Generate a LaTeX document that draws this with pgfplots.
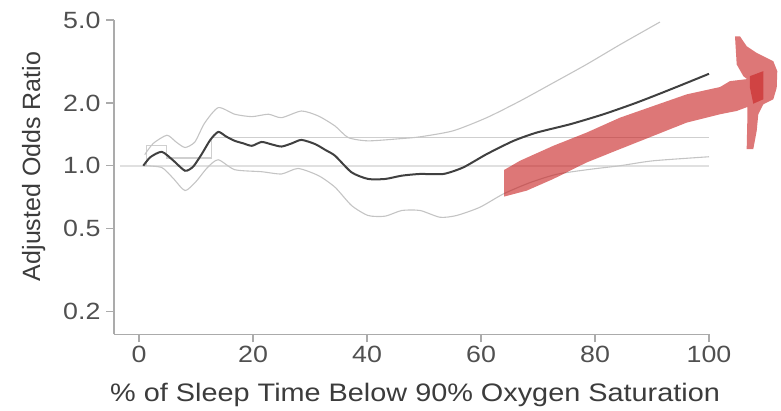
\documentclass[border=0pt]{standalone}
\usepackage{pgfplots}
\pgfplotsset{compat=1.18}
\usepackage{fontspec}
\setmainfont{Liberation Sans}[FakeStretch=1.14]
\newfontfamily\ylabfont{Liberation Sans}

\definecolor{axisgray}{HTML}{ABABAB}
\definecolor{tickgray}{HTML}{505050}
\definecolor{labgray}{HTML}{3C3C3C}
\definecolor{cigray}{HTML}{C4C4C4}
\definecolor{refgray}{HTML}{E0E0E0}
\definecolor{stepgray}{HTML}{CFCFCF}
\definecolor{estgray}{HTML}{404040}
\definecolor{arrowred}{RGB}{200,35,35}

\begin{document}
\begin{tikzpicture}
\begin{axis}[
    scale only axis,
    width=595pt, height=314.3pt,
    ymode=log,
    xmin=-4.39, xmax=100,
    ymin=0.1554, ymax=5.0,
    axis lines*=left, % L-shaped frame
    axis line style={axisgray, line width=1.3pt},
    tick align=outside,
    major tick length=8pt,
    tick style={axisgray, line width=1.2pt},
    xtick={0,20,40,60,80,100},
    ytick={0.2,0.5,1,2,5},
    yticklabels={0.2,0.5,1.0,2.0,5.0},
    yminorticks=false,
    /pgf/number format/assume math mode=true,
    ticklabel style={font=\fontsize{23.5}{28}\selectfont, text=tickgray},
    yticklabel style={xshift=-2pt},
    xlabel={\% of Sleep Time Below 90\% Oxygen Saturation},
    ylabel={Adjusted Odds Ratio},
    xlabel style={font=\fontsize{25.3}{30}\selectfont, text=labgray,
        at={(axis description cs:0.506,-0.215)}, anchor=base},
    ylabel style={font=\ylabfont\fontsize{25}{30}\selectfont, text=labgray,
        at={(axis description cs:-0.135,0.534)}, anchor=center},
    clip=false,
    every axis plot/.append style={no markers},
]
    % reference line at 1
    \addplot[refgray, line width=2.4pt] coordinates {(-3.3,1) (100,1)};
    % categorical step estimates
    \addplot[stepgray, line width=1.3pt] coordinates {
        (1.35,1.0) (1.35,1.246) (4.85,1.246) (4.85,1.088)
        (12.75,1.088) (12.75,1.365) (100,1.365)};
    % upper confidence limit
    \addplot[cigray, line width=1.1pt, smooth, tension=0.4] coordinates {
        (1.0,1.13) (2.5,1.28) (4.9,1.40) (6.5,1.30) (8.07,1.223) (9.8,1.30)
        (11.5,1.60) (13.9,1.90) (16.8,1.766) (19.8,1.72) (22.7,1.766) (25,1.70)
        (28.5,1.83) (31.5,1.73) (34.4,1.55) (36.7,1.365) (40.2,1.316) (46.1,1.35)
        (49.3,1.376) (55.1,1.47) (61,1.70) (66.8,2.04) (72.7,2.50) (78.5,3.06)
        (84.4,3.81) (91.4,4.89)};
    % lower confidence limit
    \addplot[cigray, line width=1.1pt, smooth, tension=0.4] coordinates {
        (1.0,1.0) (4.0,0.98) (6.0,0.87) (8.07,0.76) (10,0.84) (12,0.98)
        (13.9,1.068) (16.8,0.957) (21.5,0.936) (25,0.913) (27.9,0.97)
        (31.5,0.896) (34.4,0.788) (37.3,0.644) (40.2,0.577) (43.2,0.573)
        (46.1,0.61) (49.3,0.61) (52.8,0.566) (55.7,0.577) (59.8,0.632)
        (63.9,0.732) (68.6,0.83) (73.3,0.91) (79,0.96) (84.4,1.0)
        (90.2,1.056) (100,1.104)};
    % adjusted odds ratio
    \addplot[estgray, line width=2pt, smooth, tension=0.4] coordinates {
        (0.75,1.0) (2.0,1.10) (4.0,1.166) (6.0,1.06) (8.07,0.946) (9.5,0.99)
        (11,1.137) (12.5,1.33) (13.9,1.453) (15.3,1.38) (16.8,1.316)
        (18.3,1.28) (19.8,1.246) (21.5,1.30) (23.3,1.265) (25.0,1.236)
        (26.8,1.28) (28.5,1.33) (30.9,1.27) (32.7,1.19) (34.4,1.116)
        (37.3,0.929) (40.2,0.864) (43.2,0.864) (46.1,0.896) (49.3,0.913)
        (53.4,0.913) (56.9,0.982) (61.0,1.137) (65.7,1.316) (69.8,1.443)
        (75.6,1.58) (81.5,1.766) (87.3,2.007) (93.2,2.32) (100,2.76)};
    % hand-drawn red arrow
    \addplot[draw=none, fill=arrowred, fill opacity=0.62] coordinates {
        (64.04,0.7110) (68.02,0.7596) (72.68,0.8639) (78.54,1.0370)
        (84.39,1.2017) (90.23,1.3907) (96.09,1.6101) (101.93,1.7655)
        (104.86,1.8308) (106.72,1.913) (106.72,1.640) (106.61,1.2017)
        (107.77,1.2017) (108.37,1.470) (108.65,1.766) (109.53,1.970)
        (111.28,2.083) (111.88,2.366) (111.98,2.842) (111.28,3.173)
        (108.37,3.476) (106.61,3.742) (105.44,4.176) (104.56,4.176)
        (104.86,3.060) (106.02,2.690) (106.67,2.603) (103.68,2.5460)
        (101.93,2.3846) (96.09,2.1997) (90.23,1.9345) (84.39,1.7008)
        (78.54,1.4424) (72.68,1.2460) (66.84,1.0565) (64.04,0.9538)};
    \addplot[draw=none, fill=arrowred, fill opacity=0.62] coordinates {
        (107.19,2.690) (109.53,2.842) (109.53,2.083) (107.77,1.984) (107.19,2.366)};
    % page frame, same size as the reference
    \path (rel axis cs:-0.19160,-0.23449) rectangle (rel axis cs:1.12101,1.06363);
\end{axis}
\end{tikzpicture}
\end{document}
